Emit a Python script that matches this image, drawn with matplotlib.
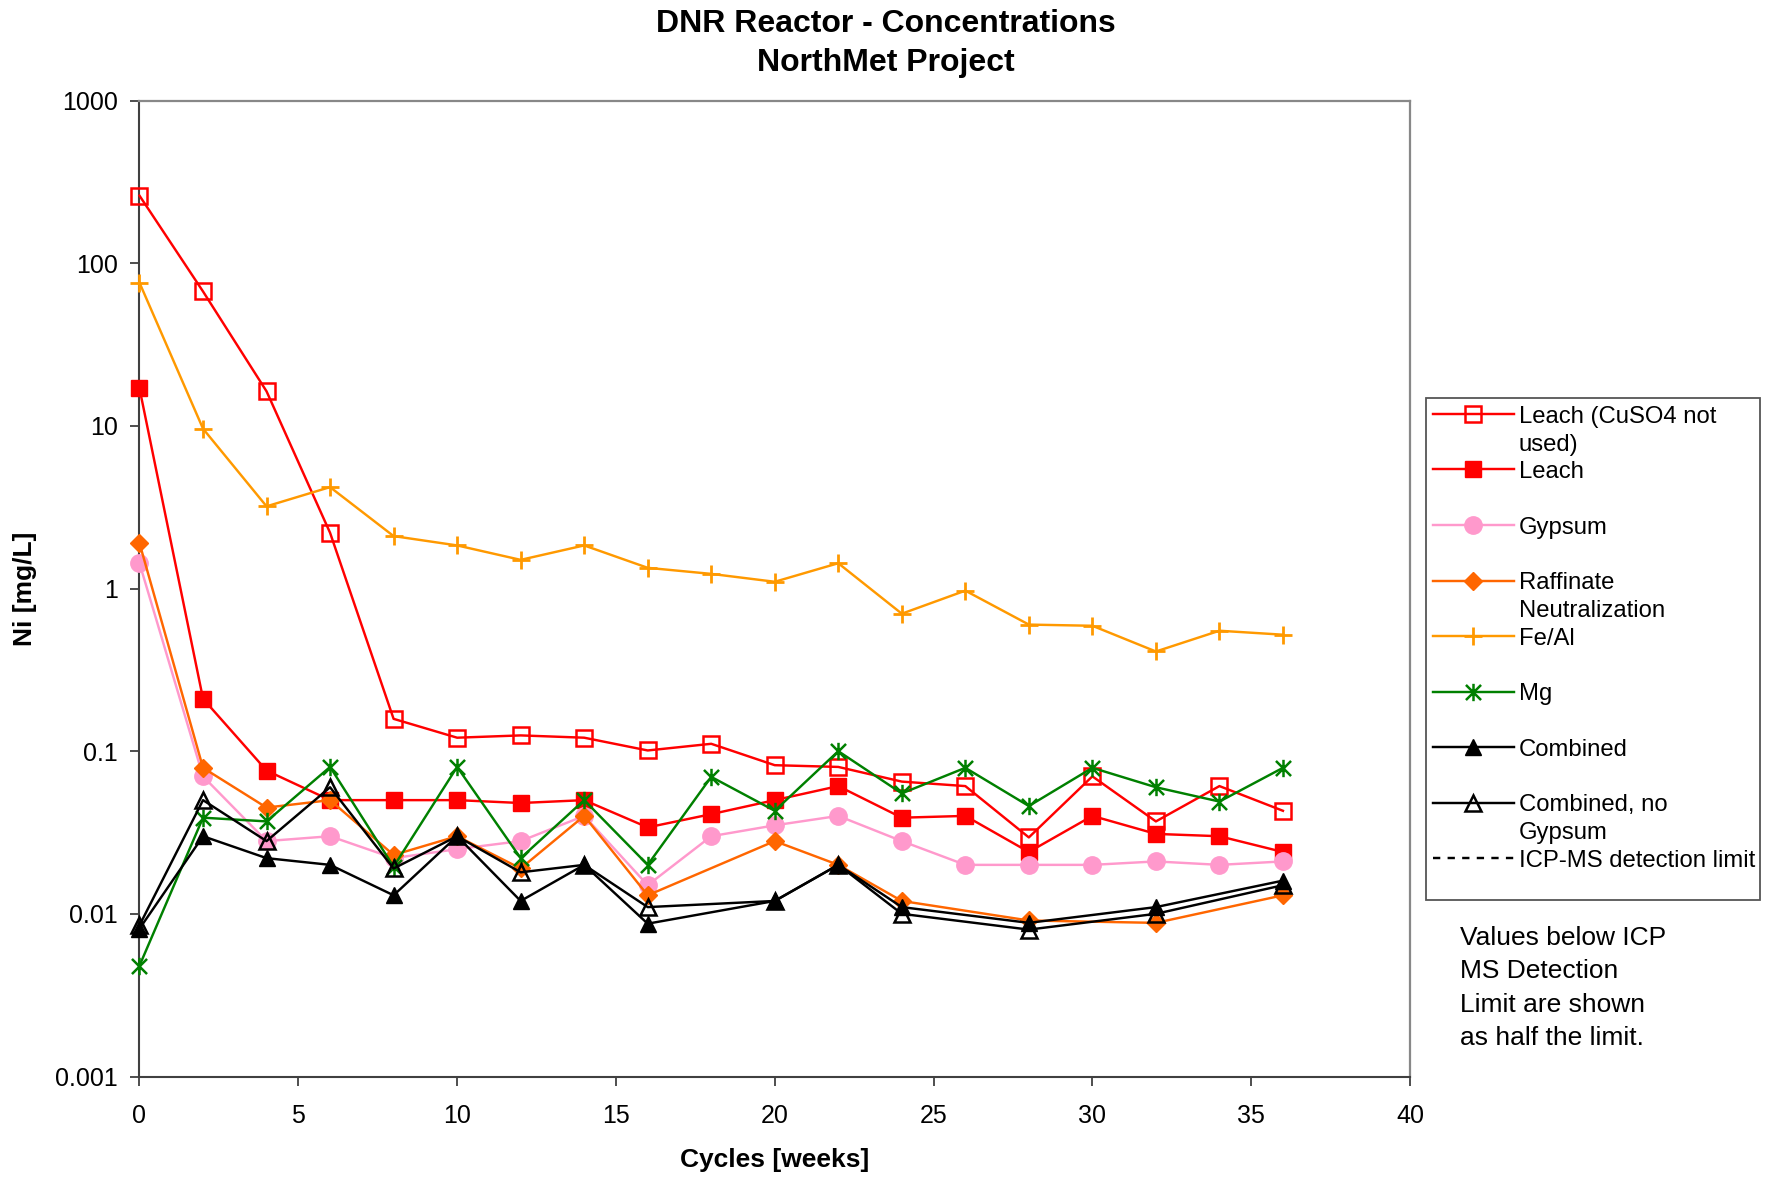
import matplotlib
matplotlib.use('Agg')
import matplotlib.pyplot as plt
from matplotlib.lines import Line2D
from matplotlib.patches import Rectangle
from matplotlib.path import Path
from matplotlib.ticker import FixedLocator, FixedFormatter, NullLocator

plt.rcParams['font.family'] = ['Liberation Sans', 'DejaVu Sans']

# ---------------- data ----------------
weeks = [0, 2, 4, 6, 8, 10, 12, 14, 16, 18, 20, 22, 24, 26, 28, 30, 32, 34, 36]
leach_no_cuso4 = [260, 67, 16.3, 2.2, 0.158, 0.121, 0.125, 0.121, 0.101, 0.111,
                  0.082, 0.080, 0.065, 0.061, 0.0295, 0.070, 0.037, 0.061, 0.043]
leach = [17, 0.21, 0.076, 0.050, 0.050, 0.050, 0.048, 0.050, 0.034, 0.041,
         0.050, 0.061, 0.039, 0.040, 0.024, 0.040, 0.031, 0.030, 0.024]
gypsum = [1.43, 0.070, 0.028, 0.030, 0.022, 0.025, 0.028, 0.040, 0.015, 0.030,
          0.035, 0.040, 0.028, 0.020, 0.020, 0.020, 0.021, 0.020, 0.021]
raff_weeks = [0, 2, 4, 6, 8, 10, 12, 14, 16, 20, 22, 24, 28, 32, 36]
raffinate = [1.9, 0.079, 0.045, 0.050, 0.023, 0.030, 0.019, 0.040, 0.013,
             0.028, 0.020, 0.012, 0.0091, 0.0088, 0.013]
fe_al = [75.8, 9.6, 3.2, 4.2, 2.1, 1.84, 1.50, 1.84, 1.34, 1.23,
         1.10, 1.43, 0.70, 0.97, 0.60, 0.59, 0.41, 0.55, 0.52]
mg = [0.0048, 0.039, 0.037, 0.080, 0.0195, 0.080, 0.022, 0.050, 0.020, 0.0695,
      0.043, 0.100, 0.055, 0.079, 0.046, 0.079, 0.060, 0.049, 0.079]
comb_weeks = [0, 2, 4, 6, 8, 10, 12, 14, 16, 20, 22, 24, 28, 32, 36]
combined = [0.0081, 0.030, 0.022, 0.020, 0.013, 0.030, 0.012, 0.020, 0.0087,
            0.012, 0.020, 0.011, 0.0088, 0.011, 0.016]
combined_no_gypsum = [0.0085, 0.050, 0.028, 0.060, 0.019, 0.030, 0.018, 0.020,
                      0.011, 0.012, 0.020, 0.010, 0.008, 0.010, 0.015]

x_ticks = [0, 5, 10, 15, 20, 25, 30, 35, 40]
y_ticks = [0.001, 0.01, 0.1, 1, 10, 100, 1000]
y_tick_labels = ['0.001', '0.01', '0.1', '1', '10', '100', '1000']

title_lines = ['DNR Reactor - Concentrations', 'NorthMet Project']
x_label = 'Cycles [weeks]'
y_label = 'Ni [mg/L]'
note_lines = ['Values below ICP', 'MS Detection', 'Limit are shown', 'as half the limit.']
legend_labels = [['Leach (CuSO4 not', 'used)'], ['Leach'], ['Gypsum'],
                 ['Raffinate', 'Neutralization'], ['Fe/Al'], ['Mg'], ['Combined'],
                 ['Combined, no', 'Gypsum'], ['ICP-MS detection limit']]

# ---------------- styles ----------------
star = Path([(-1, -1), (1, 1), (-1, 1), (1, -1), (0, -1.15), (0, 1.15)],
            [Path.MOVETO, Path.LINETO, Path.MOVETO, Path.LINETO, Path.MOVETO, Path.LINETO])

series = [
    (weeks, leach_no_cuso4, dict(color='#FF0000', marker='s', ms=11, mfc='none', mec='#FF0000', mew=1.8)),
    (weeks, leach, dict(color='#FF0000', marker='s', ms=12, mfc='#FF0000', mec='#FF0000', mew=1)),
    (weeks, gypsum, dict(color='#FF99CC', marker='o', ms=12.5, mfc='#FF99CC', mec='#FF99CC', mew=1)),
    (raff_weeks, raffinate, dict(color='#FF6600', marker='D', ms=8.8, mfc='#FF6600', mec='#FF6600', mew=1)),
    (weeks, fe_al, dict(color='#FF9900', marker='+', ms=13, mfc='#FF9900', mec='#FF9900', mew=2)),
    (weeks, mg, dict(color='#008000', marker=star, ms=12.5, mfc='#008000', mec='#008000', mew=1.8)),
    (comb_weeks, combined, dict(color='#000000', marker='^', ms=12, mfc='#000000', mec='#000000', mew=1)),
    (comb_weeks, combined_no_gypsum, dict(color='#000000', marker='^', ms=11, mfc='none', mec='#000000', mew=1.8)),
]

W, H = 1774, 1177
fig = plt.figure(figsize=(W / 100, H / 100), dpi=100)
L, R, T, B = 139.5, 1410.0, 100.5, 1076.5
ax = fig.add_axes([L / W, 1 - B / H, (R - L) / W, (B - T) / H])

for i, (xs, ys, st) in enumerate(series):
    ax.plot(xs, ys, linestyle='-', lw=1.75, zorder=3 + i, clip_on=False, **st)

ax.set_yscale('log')
ax.set_xlim(0, 40)
ax.set_ylim(0.001, 1000)
ax.xaxis.set_major_locator(FixedLocator(x_ticks))
ax.yaxis.set_major_locator(FixedLocator(y_ticks))
ax.yaxis.set_major_formatter(FixedFormatter(y_tick_labels))
ax.yaxis.set_minor_locator(NullLocator())
ax.xaxis.set_minor_locator(NullLocator())
ax.tick_params(axis='both', direction='out', length=6.5, width=1.3, color='#404040', labelsize=18)
ax.tick_params(axis='y', pad=9)
ax.tick_params(axis='x', pad=13)

for s in ['left', 'bottom']:
    ax.spines[s].set_color('#404040')
    ax.spines[s].set_linewidth(1.5)
for s in ['top', 'right']:
    ax.spines[s].set_color('#888888')
    ax.spines[s].set_linewidth(1.6)

ax.set_xlabel(x_label, fontsize=19, fontweight='bold')
ax.xaxis.set_label_coords(0.5, (B - 1160) / (B - T))
ax.xaxis.label.set_va('center')
ax.set_ylabel(y_label, fontsize=19, fontweight='bold')
ax.yaxis.set_label_coords((25 - L) / (R - L), 0.5)
ax.yaxis.label.set_va('center')


def fx(x):
    return x / W


def fy(y):
    return 1 - y / H


# title
for i, t in enumerate(title_lines):
    fig.text(fx(886), fy(32 + 39.5 * i), t, ha='center', va='baseline',
             fontsize=23, fontweight='bold')

# legend (manual, Excel-like)
fig.add_artist(Rectangle((fx(1426), fy(900)), 334 / W, 502 / H, transform=fig.transFigure,
                         fill=False, edgecolor='#555555', lw=1.3))
leg_styles = [st for (_, _, st) in series] + [None]
for i, (labels, st) in enumerate(zip(legend_labels, leg_styles)):
    y = 414 + 55.5 * i
    if st is None:
        fig.add_artist(Line2D([fx(1433), fx(1514)], [fy(y), fy(y)], transform=fig.transFigure,
                              color='black', lw=1.75, linestyle=(0, (3, 3))))
    else:
        fig.add_artist(Line2D([fx(1433), fx(1514)], [fy(y), fy(y)], transform=fig.transFigure,
                              color=st['color'], lw=1.75))
        mst = {k: v for k, v in st.items() if k != 'color'}
        fig.add_artist(Line2D([fx(1473.5)], [fy(y)], transform=fig.transFigure,
                              linestyle='none', **mst))
    for j, lab in enumerate(labels):
        fig.text(fx(1519), fy(y + 8.6 + 28 * j), lab, ha='left', va='baseline', fontsize=17.2)

# note
for i, t in enumerate(note_lines):
    fig.text(fx(1460), fy(945 + 33.3 * i), t, ha='left', va='baseline', fontsize=19)

fig.savefig('out.png', dpi=100)
